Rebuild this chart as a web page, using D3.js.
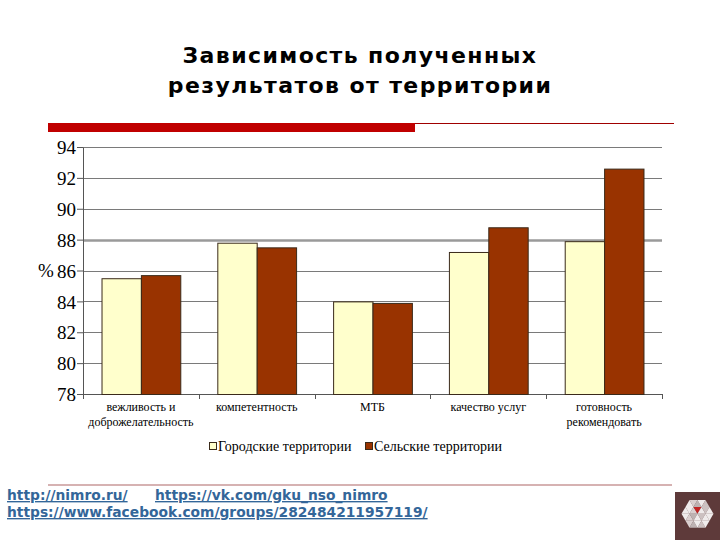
<!DOCTYPE html>
<html>
<head>
<meta charset="utf-8">
<script src="https://cdn.jsdelivr.net/npm/d3@7"></script>
<style>
  body { margin: 0; background: #fff; }
  svg { display: block; }
</style>
</head>
<body>
<div id="chart"></div>
<script>
// chart data
const categories = [
    ['вежливость и', 'доброжелательность'],
    ['компетентность'],
    ['МТБ'],
    ['качество услуг'],
    ['готовность', 'рекомендовать']
];
const seriesNames = ['Городские территории', 'Сельские территории'];
const urbanValues = [85.5, 87.8, 84.0, 87.2, 87.9];
const ruralValues = [85.7, 87.5, 83.9, 88.8, 92.6];
const yTicks = [78, 80, 82, 84, 86, 88, 90, 92, 94];
const titleLines = ['Зависимость полученных', 'результатов от территории'];
const links = [
    [{ text: 'http://nimro.ru/', x: 7 }, { text: 'https://vk.com/gku_nso_nimro', x: 155 }],
    [{ text: 'https://www.facebook.com/groups/282484211957119/', x: 7 }]
];

const colors = ['#ffffcc', '#993300'];
const width = 720, height = 540;
const margin = { top: 147, right: 58, bottom: 146, left: 83 };
const innerW = width - margin.left - margin.right;
const innerH = height - margin.top - margin.bottom;
const serif = 'Liberation Serif';

const svg = d3.select('#chart').append('svg')
    .attr('width', width)
    .attr('height', height);

// title
svg.append('text')
    .attr('x', width / 2)
    .attr('y', 63)
    .attr('text-anchor', 'middle')
    .style('font-family', 'DejaVu Sans')
    .style('font-weight', 'bold')
    .style('font-size', '22px')
    .style('letter-spacing', '1.4px')
    .attr('fill', '#000')
    .selectAll('tspan')
    .data(titleLines)
    .join('tspan')
    .attr('x', width / 2)
    .attr('dy', (d, i) => i === 0 ? 0 : 30)
    .text(d => d);

// red decorative bar under the title
svg.append('line')
    .attr('x1', 48).attr('x2', 674)
    .attr('y1', 123.5).attr('y2', 123.5)
    .attr('stroke', '#a00000')
    .attr('stroke-width', 1);
svg.append('rect')
    .attr('x', 48).attr('y', 123)
    .attr('width', 367).attr('height', 9)
    .attr('fill', '#c00000');

const chart = svg.append('g')
    .attr('transform', `translate(${margin.left},${margin.top})`);

const x0 = d3.scaleBand()
    .domain(d3.range(categories.length))
    .range([0, innerW]);

const x1 = d3.scaleBand()
    .domain([0, 1])
    .range([0, x0.bandwidth()])
    .paddingOuter(0.47);

const y = d3.scaleLinear()
    .domain([78, 94])
    .range([innerH, 0]);

// gridlines
chart.append('g')
    .selectAll('line')
    .data(yTicks.slice(1))
    .join('line')
    .attr('x1', 0).attr('x2', innerW)
    .attr('y1', d => Math.round(y(d)) + 0.5)
    .attr('y2', d => Math.round(y(d)) + 0.5)
    .attr('stroke', d => d === 88 ? '#9a9a9a' : '#7a7a7a')
    .attr('stroke-width', d => d === 88 ? 2.5 : 1);

// y axis
const yAxis = d3.axisLeft(y)
    .tickValues(yTicks)
    .tickSize(6)
    .tickPadding(1)
    .tickSizeOuter(0);

const yAxisG = chart.append('g').call(yAxis);
yAxisG.attr('font-family', serif).attr('font-size', 19);
yAxisG.select('.domain').attr('stroke', '#555');
yAxisG.selectAll('line').attr('stroke', '#555');
yAxisG.selectAll('text')
    .style('font-family', serif)
    .style('font-size', '19px')
    .attr('dy', '0.35em')
    .attr('fill', '#000');

chart.append('text')
    .attr('x', -45)
    .attr('y', y(86) + 6)
    .style('font-family', serif)
    .style('font-size', '19px')
    .attr('fill', '#000')
    .text('%');

// x axis line and tick marks at band boundaries
chart.append('line')
    .attr('x1', 0).attr('x2', innerW)
    .attr('y1', innerH + 0.5).attr('y2', innerH + 0.5)
    .attr('stroke', '#555');
chart.append('g')
    .selectAll('line')
    .data(d3.range(categories.length + 1))
    .join('line')
    .attr('x1', d => Math.round(d * x0.step()) + 0.5)
    .attr('x2', d => Math.round(d * x0.step()) + 0.5)
    .attr('y1', innerH)
    .attr('y2', innerH + 5)
    .attr('stroke', '#555');

// bars
const groups = chart.append('g')
    .selectAll('g')
    .data(categories.map((c, i) => [urbanValues[i], ruralValues[i]]))
    .join('g')
    .attr('transform', (d, i) => `translate(${x0(i)},0)`);

groups.selectAll('rect')
    .data(d => d)
    .join('rect')
    .attr('x', (d, i) => x1(i) + 0.5)
    .attr('y', d => y(d) + 0.5)
    .attr('width', x1.bandwidth())
    .attr('height', d => innerH - y(d))
    .attr('fill', (d, i) => colors[i])
    .attr('stroke', '#3a2a1a')
    .attr('stroke-width', 1);

// category labels
chart.append('g')
    .selectAll('text')
    .data(categories)
    .join('text')
    .attr('text-anchor', 'middle')
    .style('font-family', serif)
    .style('font-size', '12px')
    .attr('fill', '#000')
    .attr('transform', (d, i) => `translate(${x0(i) + x0.bandwidth() / 2},${innerH + 17})`)
    .selectAll('tspan')
    .data(d => d)
    .join('tspan')
    .attr('x', 0)
    .attr('dy', (d, i) => i === 0 ? 0 : 15)
    .text(d => d);

// legend
const legendX = [209, 365];
const legend = svg.append('g')
    .selectAll('g')
    .data(seriesNames)
    .join('g')
    .attr('transform', (d, i) => `translate(${legendX[i]},442)`);

legend.append('rect')
    .attr('x', 0.5).attr('y', 0.5)
    .attr('width', 7).attr('height', 7)
    .attr('fill', (d, i) => colors[i])
    .attr('stroke', '#3a2a1a');

legend.append('text')
    .attr('x', 9)
    .attr('y', 9)
    .style('font-family', serif)
    .style('font-size', '14px')
    .attr('fill', '#000')
    .text(d => d);

// footer line
svg.append('line')
    .attr('x1', 48).attr('x2', 672)
    .attr('y1', 485).attr('y2', 485)
    .attr('stroke', '#c89898')
    .attr('stroke-width', 1.5);

// footer links
const linkG = svg.append('g')
    .style('font-family', 'DejaVu Sans')
    .style('font-weight', 'bold')
    .style('font-size', '13.8px')
    .attr('fill', '#336699');

links.forEach((row, r) => {
    linkG.selectAll(null)
        .data(row)
        .join('text')
        .attr('x', d => d.x)
        .attr('y', 500 + r * 17)
        .attr('text-decoration', 'underline')
        .text(d => d.text);
});

// logo box with triangles
const logo = svg.append('g').attr('transform', 'translate(675,492)');
logo.append('rect')
    .attr('width', 45).attr('height', 48)
    .attr('fill', '#5e3a3a');

const triColors = ['#ffffff', '#e8e0e0', '#c8c0c0', '#ffffff', '#d8d0d0', '#ffffff'];
const tri = [];
const s = 8, h = s * Math.sqrt(3) / 2;
for (let row = 0; row < 4; row++) {
    const n = row === 0 || row === 3 ? 3 : 4;
    for (let k = 0; k < n * 2 - 1; k++) {
        tri.push({ row, k, n });
    }
}
logo.append('g')
    .attr('transform', 'translate(22.5,8)')
    .selectAll('path')
    .data(tri)
    .join('path')
    .attr('d', d => {
        const start = -(d.n - 1) * s / 2 - s / 2;
        const bx = start + (d.k + 1) * s / 2;
        const by = d.row * h;
        const up = (d.k % 2 === 0) === (d.row < 2);
        return up
            ? `M${bx},${by}L${bx + s / 2},${by + h}L${bx - s / 2},${by + h}Z`
            : `M${bx - s / 2},${by}L${bx + s / 2},${by}L${bx},${by + h}Z`;
    })
    .attr('fill', (d, i) => (d.row === 1 && d.k === 3) ? '#cc2222' : triColors[i % triColors.length])
    .attr('opacity', 0.9);
</script>
</body>
</html>
